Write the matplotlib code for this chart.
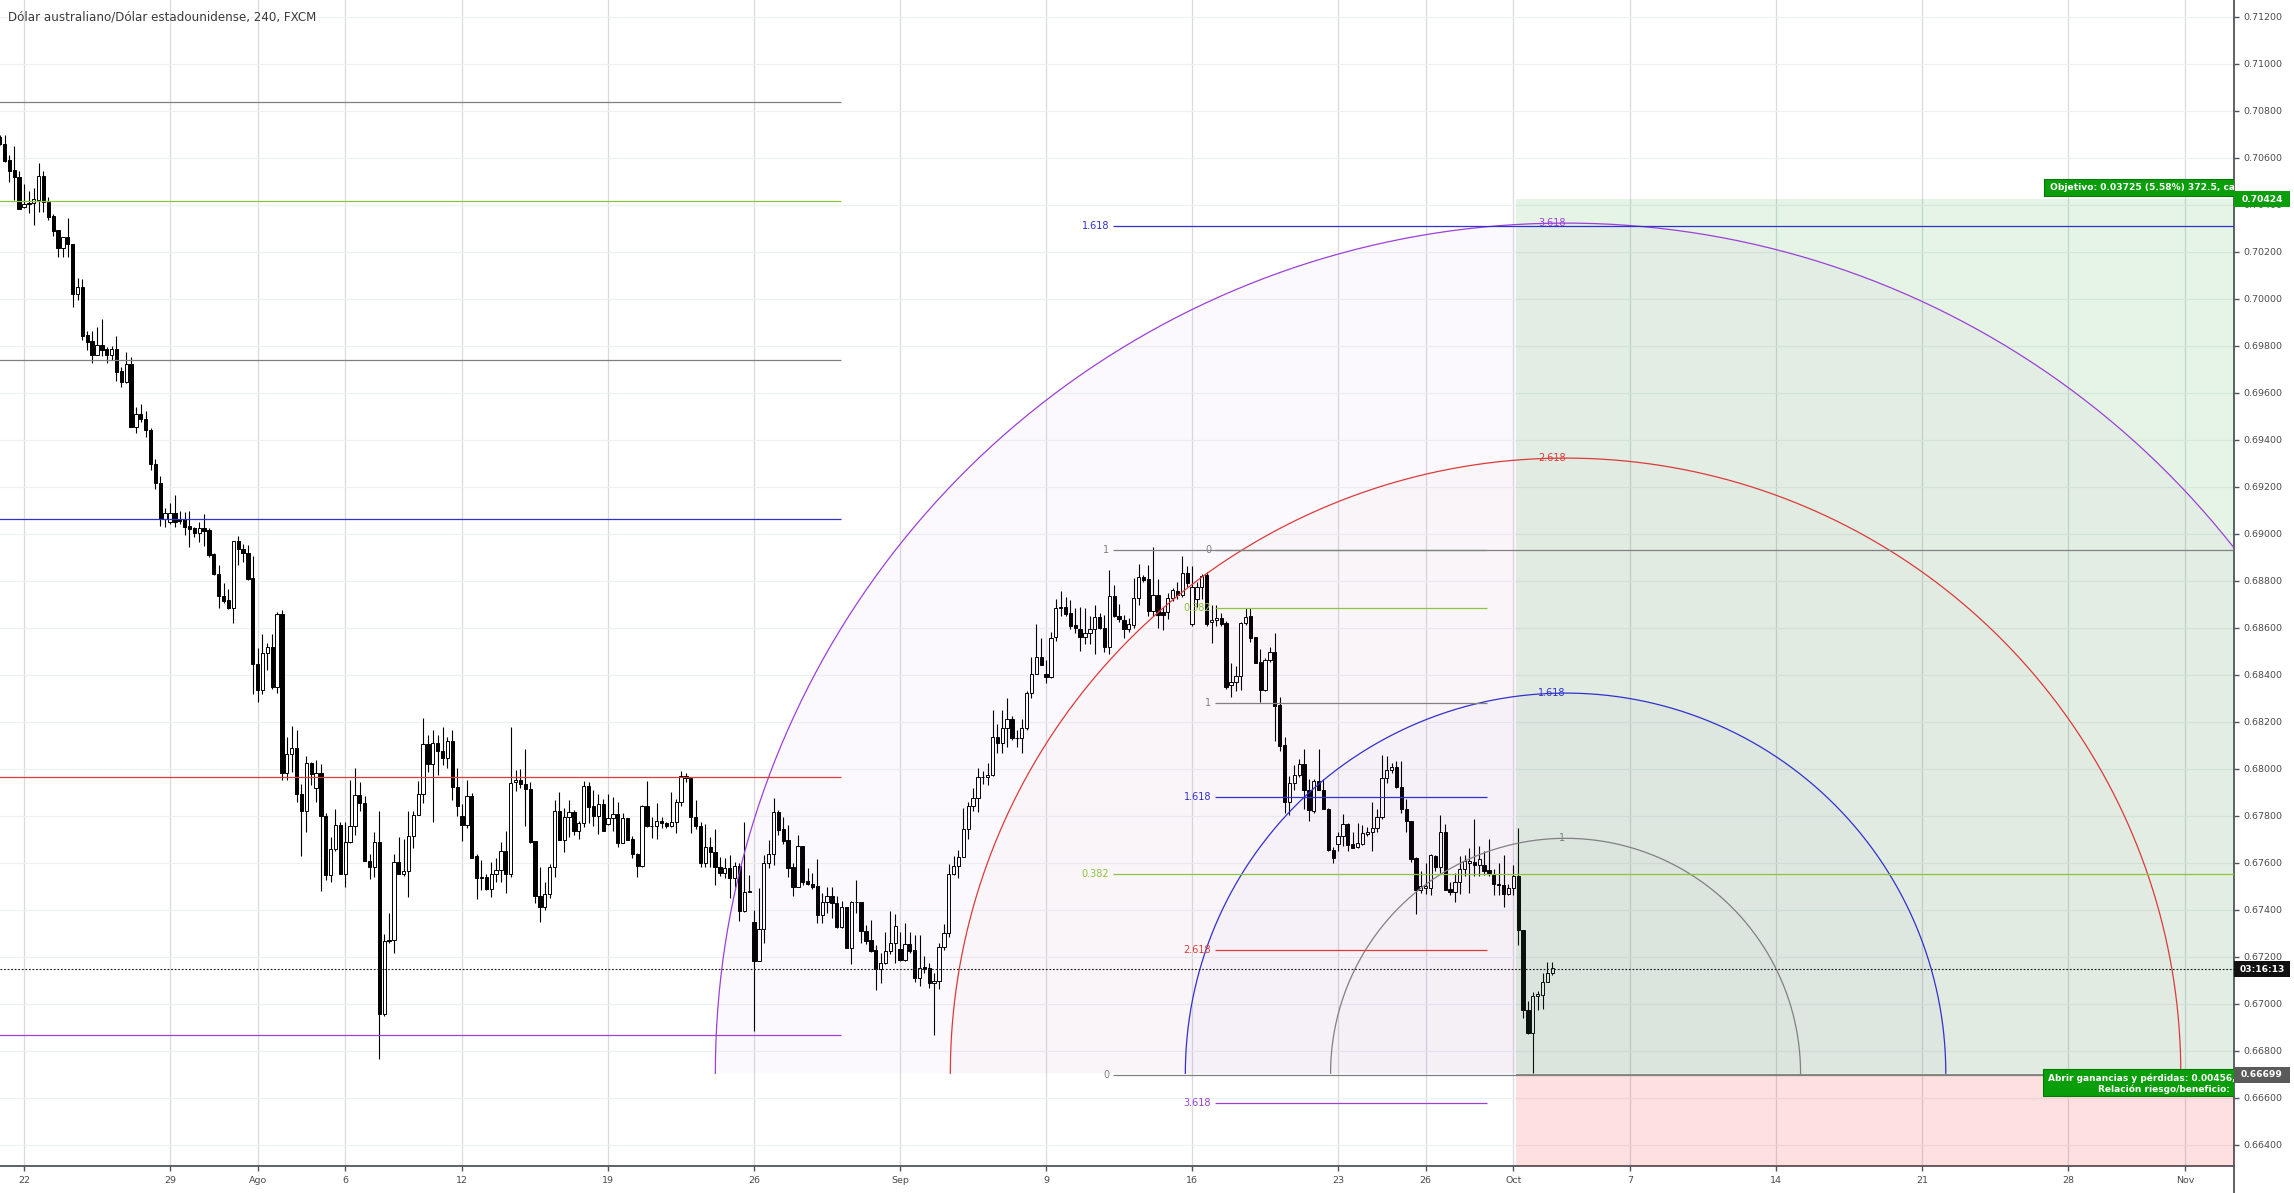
import numpy as np
import matplotlib
matplotlib.use("Agg")
import matplotlib.pyplot as plt
from matplotlib.patches import Rectangle, Polygon
from matplotlib.lines import Line2D
from matplotlib.transforms import blended_transform_factory

W, H, DPI = 2294, 1193, 100

TITLE = "Dólar australiano/Dólar estadounidense, 240, FXCM"

# 4h candles (19 Jul 2019 late session -> 2 Oct 2019)
opens = [
    0.70691, 0.70658, 0.70592, 0.70549, 0.70518, 0.70390, 0.70404, 0.70407, 0.70421, 0.70523,
    0.70414, 0.70353, 0.70294, 0.70216, 0.70262, 0.70234, 0.70021, 0.70050, 0.69847, 0.69823,
    0.69762, 0.69803, 0.69786, 0.69762, 0.69786, 0.69695, 0.69645, 0.69722, 0.69457, 0.69509,
    0.69488, 0.69442, 0.69296, 0.69216, 0.69064, 0.69050, 0.69088, 0.69064, 0.69064, 0.69035,
    0.69024, 0.69006, 0.69027, 0.69017, 0.68913, 0.68828, 0.68736, 0.68721, 0.68684, 0.68970,
    0.68935, 0.68918, 0.68813, 0.68445, 0.68335, 0.68494, 0.68520, 0.68350, 0.68658, 0.67985,
    0.68062, 0.68091, 0.67893, 0.67820, 0.68025, 0.67919, 0.67981, 0.67802, 0.67549, 0.67658,
    0.67761, 0.67552, 0.67691, 0.67758, 0.67889, 0.67856, 0.67610, 0.67585, 0.67688, 0.66958,
    0.67270, 0.67273, 0.67603, 0.67553, 0.67568, 0.67714, 0.67805, 0.67893, 0.68105, 0.68022,
    0.68110, 0.68075, 0.68047, 0.68117, 0.67922, 0.67798, 0.67761, 0.67886, 0.67629, 0.67542,
    0.67542, 0.67490, 0.67553, 0.67571, 0.67651, 0.67553, 0.67944, 0.67953, 0.67935, 0.67913,
    0.67694, 0.67461, 0.67414, 0.67468, 0.67581, 0.67821, 0.67698, 0.67794, 0.67818, 0.67738,
    0.67769, 0.67928, 0.67843, 0.67800, 0.67851, 0.67764, 0.67790, 0.67808, 0.67684, 0.67790,
    0.67701, 0.67637, 0.67589, 0.67843, 0.67759, 0.67759, 0.67780, 0.67769, 0.67757, 0.67773,
    0.67858, 0.67972, 0.67960, 0.67797, 0.67759, 0.67599, 0.67670, 0.67645, 0.67584, 0.67559,
    0.67577, 0.67537, 0.67589, 0.67397, 0.67478, 0.67350, 0.67184, 0.67318, 0.67599, 0.67637,
    0.67816, 0.67743, 0.67698, 0.67584, 0.67499, 0.67672, 0.67523, 0.67511, 0.67502, 0.67379,
    0.67433, 0.67461, 0.67428, 0.67329, 0.67411, 0.67240, 0.67433, 0.67433, 0.67311, 0.67272,
    0.67230, 0.67147, 0.67173, 0.67226, 0.67258, 0.67233, 0.67187, 0.67255, 0.67230, 0.67112,
    0.67156, 0.67152, 0.67088, 0.67098, 0.67244, 0.67301, 0.67552, 0.67587, 0.67627, 0.67743,
    0.67844, 0.67875, 0.67965, 0.67965, 0.67974, 0.68135, 0.68110, 0.68176, 0.68212, 0.68133,
    0.68133, 0.68176, 0.68324, 0.68403, 0.68475, 0.68403, 0.68391, 0.68561, 0.68683, 0.68691,
    0.68662, 0.68613, 0.68597, 0.68561, 0.68577, 0.68597, 0.68646, 0.68602, 0.68520, 0.68737,
    0.68651, 0.68634, 0.68594, 0.68613, 0.68727, 0.68818, 0.68809, 0.68672, 0.68740, 0.68667,
    0.68667, 0.68727, 0.68756, 0.68740, 0.68833, 0.68618, 0.68724, 0.68773, 0.68825, 0.68626,
    0.68634, 0.68642, 0.68621, 0.68357, 0.68369, 0.68395, 0.68623, 0.68651, 0.68561, 0.68455,
    0.68336, 0.68463, 0.68496, 0.68271, 0.68102, 0.67858, 0.67939, 0.67975, 0.68020, 0.67910,
    0.67820, 0.67950, 0.67910, 0.67831, 0.67654, 0.67682, 0.67714, 0.67766, 0.67682, 0.67669,
    0.67682, 0.67722, 0.67731, 0.67747, 0.67796, 0.67962, 0.67994, 0.68007, 0.67923, 0.67828,
    0.67779, 0.67620, 0.67486, 0.67494, 0.67494, 0.67629, 0.67584, 0.67734, 0.67489, 0.67478,
    0.67519, 0.67576, 0.67600, 0.67603, 0.67592, 0.67592, 0.67571, 0.67555, 0.67511, 0.67506,
    0.67467, 0.67494, 0.67543, 0.67315, 0.66973, 0.66876, 0.67033, 0.67038, 0.67095, 0.67131,
]
highs = [
    0.70698, 0.70698, 0.70613, 0.70651, 0.70545, 0.70489, 0.70460, 0.70471, 0.70580, 0.70545,
    0.70435, 0.70362, 0.70294, 0.70262, 0.70343, 0.70234, 0.70088, 0.70084, 0.69864, 0.69865,
    0.69879, 0.69913, 0.69797, 0.69800, 0.69842, 0.69712, 0.69773, 0.69752, 0.69542, 0.69553,
    0.69523, 0.69450, 0.69318, 0.69247, 0.69109, 0.69130, 0.69166, 0.69098, 0.69095, 0.69099,
    0.69031, 0.69052, 0.69085, 0.69024, 0.68918, 0.68867, 0.68790, 0.68765, 0.68972, 0.68991,
    0.68956, 0.68953, 0.68906, 0.68516, 0.68574, 0.68538, 0.68574, 0.68670, 0.68677, 0.68135,
    0.68182, 0.68164, 0.67937, 0.68054, 0.68031, 0.68037, 0.68022, 0.67812, 0.67710, 0.67831,
    0.67776, 0.67776, 0.67952, 0.68003, 0.67944, 0.67886, 0.67637, 0.67732, 0.67820, 0.67297,
    0.67387, 0.67637, 0.67710, 0.67702, 0.67820, 0.67820, 0.67947, 0.68215, 0.68145, 0.68168,
    0.68145, 0.68179, 0.68135, 0.68164, 0.68003, 0.67849, 0.67952, 0.67896, 0.67637, 0.67612,
    0.67553, 0.67603, 0.67622, 0.67688, 0.67735, 0.68179, 0.67995, 0.67999, 0.68085, 0.67943,
    0.67694, 0.67584, 0.67520, 0.67596, 0.67868, 0.67901, 0.67833, 0.67868, 0.67825, 0.67780,
    0.67949, 0.67946, 0.67911, 0.67894, 0.67872, 0.67892, 0.67882, 0.67858, 0.67814, 0.67790,
    0.67715, 0.67641, 0.67847, 0.67949, 0.67797, 0.67854, 0.67794, 0.67776, 0.67901, 0.67872,
    0.67991, 0.67982, 0.67960, 0.67868, 0.67776, 0.67764, 0.67712, 0.67743, 0.67627, 0.67620,
    0.67634, 0.67606, 0.67601, 0.67776, 0.67549, 0.67400, 0.67492, 0.67634, 0.67698, 0.67875,
    0.67825, 0.67794, 0.67762, 0.67601, 0.67719, 0.67672, 0.67577, 0.67556, 0.67615, 0.67471,
    0.67499, 0.67499, 0.67461, 0.67438, 0.67414, 0.67440, 0.67528, 0.67435, 0.67336, 0.67357,
    0.67251, 0.67216, 0.67305, 0.67396, 0.67381, 0.67308, 0.67343, 0.67308, 0.67294, 0.67294,
    0.67204, 0.67176, 0.67133, 0.67261, 0.67340, 0.67596, 0.67630, 0.67655, 0.67833, 0.67861,
    0.67918, 0.68003, 0.67991, 0.68024, 0.68251, 0.68191, 0.68253, 0.68300, 0.68224, 0.68164,
    0.68212, 0.68332, 0.68475, 0.68618, 0.68558, 0.68463, 0.68582, 0.68724, 0.68756, 0.68732,
    0.68721, 0.68683, 0.68691, 0.68683, 0.68651, 0.68699, 0.68662, 0.68656, 0.68846, 0.68781,
    0.68704, 0.68656, 0.68642, 0.68813, 0.68874, 0.68825, 0.68870, 0.68944, 0.68809, 0.68691,
    0.68748, 0.68769, 0.68797, 0.68906, 0.68862, 0.68862, 0.68797, 0.68830, 0.68838, 0.68699,
    0.68699, 0.68662, 0.68629, 0.68450, 0.68439, 0.68626, 0.68683, 0.68683, 0.68561, 0.68512,
    0.68471, 0.68520, 0.68577, 0.68305, 0.68138, 0.67970, 0.68015, 0.68043, 0.68085, 0.67959,
    0.67959, 0.68085, 0.67959, 0.67834, 0.67669, 0.67731, 0.67809, 0.67771, 0.67731, 0.67771,
    0.67763, 0.67755, 0.67858, 0.67831, 0.68059, 0.68056, 0.68027, 0.68032, 0.68032, 0.67874,
    0.67779, 0.67625, 0.67568, 0.67600, 0.67638, 0.67633, 0.67804, 0.67766, 0.67519, 0.67559,
    0.67629, 0.67633, 0.67662, 0.67788, 0.67673, 0.67652, 0.67701, 0.67576, 0.67600, 0.67636,
    0.67511, 0.67592, 0.67750, 0.67315, 0.67014, 0.67050, 0.67055, 0.67131, 0.67177, 0.67180,
]
lows = [
    0.70655, 0.70584, 0.70496, 0.70421, 0.70382, 0.70386, 0.70367, 0.70315, 0.70372, 0.70372,
    0.70336, 0.70268, 0.70180, 0.70177, 0.70177, 0.69967, 0.69996, 0.69826, 0.69783, 0.69729,
    0.69760, 0.69757, 0.69729, 0.69740, 0.69651, 0.69627, 0.69641, 0.69457, 0.69428, 0.69478,
    0.69411, 0.69272, 0.69190, 0.69034, 0.69028, 0.69043, 0.69031, 0.69043, 0.68996, 0.68946,
    0.68989, 0.68967, 0.68949, 0.68903, 0.68826, 0.68687, 0.68706, 0.68681, 0.68623, 0.68868,
    0.68882, 0.68804, 0.68318, 0.68284, 0.68321, 0.68420, 0.68340, 0.68325, 0.67952, 0.67952,
    0.67988, 0.67861, 0.67629, 0.67732, 0.67930, 0.67861, 0.67480, 0.67527, 0.67519, 0.67651,
    0.67552, 0.67497, 0.67685, 0.67717, 0.67820, 0.67610, 0.67530, 0.67542, 0.66768, 0.66948,
    0.67260, 0.67216, 0.67553, 0.67545, 0.67456, 0.67662, 0.67805, 0.67856, 0.67988, 0.67773,
    0.67974, 0.68017, 0.68003, 0.67867, 0.67798, 0.67695, 0.67747, 0.67622, 0.67446, 0.67486,
    0.67486, 0.67456, 0.67519, 0.67519, 0.67471, 0.67542, 0.67905, 0.67918, 0.67759, 0.67686,
    0.67428, 0.67350, 0.67400, 0.67450, 0.67542, 0.67698, 0.67648, 0.67712, 0.67719, 0.67702,
    0.67755, 0.67769, 0.67759, 0.67722, 0.67738, 0.67762, 0.67738, 0.67670, 0.67684, 0.67698,
    0.67620, 0.67542, 0.67581, 0.67755, 0.67708, 0.67701, 0.67750, 0.67750, 0.67755, 0.67729,
    0.67844, 0.67943, 0.67729, 0.67743, 0.67581, 0.67581, 0.67584, 0.67506, 0.67545, 0.67535,
    0.67450, 0.67499, 0.67355, 0.67393, 0.67476, 0.66886, 0.67184, 0.67258, 0.67577, 0.67591,
    0.67719, 0.67681, 0.67542, 0.67460, 0.67499, 0.67506, 0.67506, 0.67488, 0.67346, 0.67346,
    0.67386, 0.67364, 0.67322, 0.67322, 0.67237, 0.67169, 0.67389, 0.67261, 0.67254, 0.67223,
    0.67060, 0.67091, 0.67169, 0.67211, 0.67173, 0.67184, 0.67184, 0.67216, 0.67095, 0.67077,
    0.67133, 0.67069, 0.66868, 0.67062, 0.67230, 0.67284, 0.67549, 0.67535, 0.67627, 0.67701,
    0.67821, 0.67818, 0.67935, 0.67932, 0.67972, 0.68069, 0.68069, 0.68093, 0.68124, 0.68093,
    0.68069, 0.68164, 0.68300, 0.68403, 0.68444, 0.68368, 0.68387, 0.68545, 0.68651, 0.68651,
    0.68597, 0.68577, 0.68504, 0.68531, 0.68531, 0.68488, 0.68594, 0.68499, 0.68488, 0.68646,
    0.68626, 0.68556, 0.68581, 0.68602, 0.68699, 0.68797, 0.68651, 0.68651, 0.68602, 0.68590,
    0.68639, 0.68716, 0.68724, 0.68732, 0.68776, 0.68610, 0.68691, 0.68724, 0.68610, 0.68537,
    0.68610, 0.68610, 0.68341, 0.68305, 0.68333, 0.68336, 0.68613, 0.68542, 0.68450, 0.68287,
    0.68333, 0.68455, 0.68121, 0.68076, 0.67812, 0.67804, 0.67910, 0.67967, 0.67828, 0.67779,
    0.67812, 0.67910, 0.67828, 0.67652, 0.67600, 0.67649, 0.67673, 0.67652, 0.67662, 0.67665,
    0.67677, 0.67714, 0.67649, 0.67731, 0.67788, 0.67942, 0.67983, 0.67918, 0.67812, 0.67731,
    0.67603, 0.67384, 0.67473, 0.67470, 0.67462, 0.67568, 0.67559, 0.67483, 0.67462, 0.67434,
    0.67470, 0.67543, 0.67473, 0.67543, 0.67543, 0.67551, 0.67543, 0.67462, 0.67462, 0.67413,
    0.67462, 0.67462, 0.67250, 0.66941, 0.66871, 0.66705, 0.66973, 0.66978, 0.67095, 0.67125,
]
closes = [
    0.70660, 0.70589, 0.70546, 0.70518, 0.70382, 0.70403, 0.70410, 0.70424, 0.70523, 0.70414,
    0.70350, 0.70291, 0.70216, 0.70262, 0.70233, 0.70021, 0.70050, 0.69842, 0.69818, 0.69762,
    0.69803, 0.69783, 0.69762, 0.69786, 0.69691, 0.69645, 0.69722, 0.69457, 0.69509, 0.69488,
    0.69442, 0.69296, 0.69216, 0.69064, 0.69088, 0.69088, 0.69052, 0.69055, 0.69031, 0.69020,
    0.69006, 0.69027, 0.69014, 0.68911, 0.68828, 0.68736, 0.68716, 0.68684, 0.68970, 0.68935,
    0.68918, 0.68809, 0.68445, 0.68335, 0.68494, 0.68520, 0.68350, 0.68658, 0.67985, 0.68062,
    0.68091, 0.67893, 0.67820, 0.68025, 0.67978, 0.67981, 0.67802, 0.67549, 0.67658, 0.67761,
    0.67552, 0.67691, 0.67758, 0.67889, 0.67856, 0.67610, 0.67585, 0.67688, 0.66958, 0.67270,
    0.67273, 0.67603, 0.67553, 0.67568, 0.67714, 0.67805, 0.67893, 0.68105, 0.68022, 0.68110,
    0.68075, 0.68047, 0.68117, 0.67922, 0.67842, 0.67761, 0.67886, 0.67622, 0.67535, 0.67535,
    0.67490, 0.67553, 0.67571, 0.67651, 0.67553, 0.67941, 0.67952, 0.67935, 0.67913, 0.67691,
    0.67461, 0.67414, 0.67468, 0.67581, 0.67821, 0.67698, 0.67794, 0.67816, 0.67738, 0.67769,
    0.67928, 0.67840, 0.67800, 0.67851, 0.67738, 0.67790, 0.67808, 0.67684, 0.67790, 0.67698,
    0.67637, 0.67589, 0.67843, 0.67759, 0.67757, 0.67780, 0.67769, 0.67757, 0.67773, 0.67858,
    0.67972, 0.67960, 0.67797, 0.67759, 0.67599, 0.67670, 0.67645, 0.67584, 0.67559, 0.67577,
    0.67537, 0.67589, 0.67397, 0.67478, 0.67480, 0.67184, 0.67318, 0.67599, 0.67637, 0.67816,
    0.67740, 0.67694, 0.67580, 0.67499, 0.67672, 0.67520, 0.67509, 0.67499, 0.67379, 0.67433,
    0.67461, 0.67428, 0.67329, 0.67411, 0.67240, 0.67433, 0.67435, 0.67311, 0.67269, 0.67226,
    0.67147, 0.67173, 0.67226, 0.67258, 0.67332, 0.67187, 0.67255, 0.67227, 0.67112, 0.67155,
    0.67147, 0.67088, 0.67098, 0.67244, 0.67301, 0.67552, 0.67587, 0.67627, 0.67743, 0.67844,
    0.67875, 0.67965, 0.67967, 0.67974, 0.68135, 0.68112, 0.68176, 0.68212, 0.68133, 0.68131,
    0.68176, 0.68324, 0.68403, 0.68475, 0.68444, 0.68391, 0.68558, 0.68683, 0.68691, 0.68659,
    0.68610, 0.68602, 0.68561, 0.68577, 0.68597, 0.68646, 0.68602, 0.68520, 0.68737, 0.68651,
    0.68639, 0.68594, 0.68618, 0.68727, 0.68818, 0.68805, 0.68672, 0.68740, 0.68656, 0.68656,
    0.68727, 0.68760, 0.68740, 0.68833, 0.68792, 0.68776, 0.68773, 0.68821, 0.68618, 0.68634,
    0.68642, 0.68618, 0.68349, 0.68369, 0.68395, 0.68623, 0.68646, 0.68558, 0.68450, 0.68336,
    0.68463, 0.68496, 0.68268, 0.68097, 0.67858, 0.67942, 0.67975, 0.68020, 0.67910, 0.67825,
    0.67950, 0.67910, 0.67831, 0.67654, 0.67620, 0.67714, 0.67766, 0.67678, 0.67665, 0.67685,
    0.67727, 0.67731, 0.67747, 0.67796, 0.67962, 0.67994, 0.68007, 0.67923, 0.67831, 0.67779,
    0.67616, 0.67486, 0.67502, 0.67502, 0.67633, 0.67584, 0.67734, 0.67486, 0.67478, 0.67519,
    0.67576, 0.67608, 0.67608, 0.67592, 0.67616, 0.67568, 0.67559, 0.67511, 0.67506, 0.67467,
    0.67494, 0.67543, 0.67315, 0.66973, 0.66876, 0.67033, 0.67043, 0.67092, 0.67131, 0.67152,
]

SESSION_START = "2019-07-22"   # trading day 0 of the time axis (weekends skipped)
BARS_PER_DAY = 6
BARS_BEFORE_START = 5

date_ticks = ["2019-07-22", "2019-07-29", "2019-08-01", "2019-08-06", "2019-08-12",
              "2019-08-19", "2019-08-26", "2019-09-02", "2019-09-09", "2019-09-16",
              "2019-09-23", "2019-09-26", "2019-10-01", "2019-10-07", "2019-10-14",
              "2019-10-21", "2019-10-28", "2019-11-01"]
date_labels = ["22", "29", "Ago", "6", "12", "19", "26", "Sep", "9", "16",
               "23", "26", "Oct", "7", "14", "21", "28", "Nov"]
price_ticks = [0.664, 0.666, 0.668, 0.670, 0.672, 0.674, 0.676, 0.678, 0.680, 0.682, 0.684,
               0.686, 0.688, 0.690, 0.692, 0.694, 0.696, 0.698, 0.700, 0.702, 0.704, 0.706,
               0.708, 0.710, 0.712]

# fib retracements: price at level 0 and at level 1
fib_old = (0.70837, 0.69740)
fib_old_levels = [0, 0.382, 1, 1.618, 2.618, 3.618]
fib_big = (0.66699, 0.68932)
fib_big_levels = [1.618, 1, 0.382, 0]
fib_new = (0.68932, 0.68282)
fib_new_levels = [0, 0.382, 1, 1.618, 2.618, 3.618]

# fib speed resistance arcs
arc_center_price = 0.66705
arc_unit_price = 0.0100
arc_levels = [1, 1.618, 2.618, 3.618]

# long position
entry_price = 0.66699
target_price = 0.70424
last_price = 0.67148
countdown = "03:16:13"
target_text = "Objetivo: 0.03725 (5.58%) 372.5, cantidad: 1"
pnl_text = "Abrir ganancias y pérdidas: 0.00456, 0.68%"
rr_text = "Relación riesgo/beneficio: 17.25"

GRAY, GREEN, BLUE, RED, PURPLE = "#808080", "#8cc43c", "#3131cf", "#dd3a3a", "#9c40d8"
LEVEL_COLOR = {0: GRAY, 0.382: GREEN, 1: GRAY, 1.618: BLUE, 2.618: RED, 3.618: PURPLE}
AXIS_C = "#50535e"
TEXT_C = "#4a4a4a"
LABEL_GREEN = "#0a9e0a"

fig = plt.figure(figsize=(W / DPI, H / DPI), dpi=DPI)
fig.patch.set_facecolor("white")
ax = fig.add_axes([0, 27 / H, 2234 / W, 1166 / H])
XMIN, XMAX = -0.822, 75.68
YMIN, YMAX = 0.663106, 0.712723
ax.set_xlim(XMIN, XMAX)
ax.set_ylim(YMIN, YMAX)

# axes / grid
tick_pos = np.busday_count(SESSION_START, date_ticks)
ax.set_xticks(tick_pos)
ax.set_xticklabels(date_labels)
ax.yaxis.tick_right()
ax.set_yticks(price_ticks)
ax.set_yticklabels([f"{p:.5f}" for p in price_ticks])
ax.tick_params(axis="y", direction="out", length=3.5, width=1, color=AXIS_C,
               labelsize=6.8, labelcolor=TEXT_C, pad=3)
ax.tick_params(axis="x", direction="out", length=3.5, width=1, color=AXIS_C,
               labelsize=6.8, labelcolor=TEXT_C, pad=4)
for s in ("left", "top"):
    ax.spines[s].set_visible(False)
for s in ("right", "bottom"):
    ax.spines[s].set_color(AXIS_C)
    ax.spines[s].set_linewidth(1.3)
ax.set_axisbelow(True)
ax.grid(axis="x", color="#d9dadf", lw=0.9)
ax.grid(axis="y", color="#eff0f3", lw=0.9)
fig.add_artist(Line2D([2234 / W, 2234 / W], [0, 27 / H], color=AXIS_C, lw=1.3,
                      transform=fig.transFigure))

fig.text(8 / W, 1 - 17 / H, TITLE, ha="left", va="center", fontsize=8.6, color="#3a3a3a")

# candles
n = min(len(opens), len(highs), len(lows), len(closes))
o, hi, lo, c = (np.array(a[:n]) for a in (opens, highs, lows, closes))
bar_day = (np.arange(n) - BARS_BEFORE_START) / BARS_PER_DAY
top, bot = np.maximum(o, c), np.minimum(o, c)
ax.vlines(bar_day, np.minimum(lo, bot), np.maximum(hi, top), color="black", lw=0.8, zorder=3)
ax.bar(bar_day, np.maximum(top - bot, 0.00002), bottom=bot, width=0.113,
       color=["white" if up else "black" for up in c >= o],
       edgecolor="black", linewidth=0.7, zorder=4)

# long position box
POS_LEFT, POS_RIGHT = 51.09, 80.0
ax.add_patch(Rectangle((POS_LEFT, entry_price), POS_RIGHT - POS_LEFT, target_price - entry_price,
                       fc=(0.0, 0.6, 0.0, 0.10), ec="none", zorder=5))
ax.add_patch(Rectangle((POS_LEFT, YMIN - 0.01), POS_RIGHT - POS_LEFT, entry_price - YMIN + 0.01,
                       fc=(1.0, 0.0, 0.0, 0.12), ec="none", zorder=5))
ax.hlines(entry_price, POS_LEFT, POS_RIGHT, color="#6e6e6e", lw=1.1, zorder=6)

# speed resistance arcs (circles in screen space)
(x0, y0), (x1, y1) = ax.transData.transform([(0, 0.68), (1, 0.69)])
days_per_price = ((y1 - y0) / 0.01) / (x1 - x0)
ARC_CENTER_DAY = 52.79
theta = np.linspace(0, np.pi, 500)
arc_alpha = {1: 0.012, 1.618: 0.02, 2.618: 0.016, 3.618: 0.03}
for lvl in arc_levels:
    col = LEVEL_COLOR[lvl]
    ry = arc_unit_price * lvl
    rx = ry * days_per_price
    xs = ARC_CENTER_DAY + rx * np.cos(theta)
    ys = arc_center_price + ry * np.sin(theta)
    ax.add_patch(Polygon(np.column_stack([xs, ys]), closed=True, fc=col,
                         alpha=arc_alpha[lvl], ec="none", zorder=5))
    ax.plot(xs, ys, color=col, lw=0.9, zorder=6)
    ax.text(ARC_CENTER_DAY, arc_center_price + ry, f"{lvl:g}", ha="right", va="center",
            color=col, fontsize=7, zorder=8)


def draw_fib(anchor, levels, x_start, x_end, label_x=None):
    p0, p1 = anchor
    for lvl in levels:
        price = p0 + lvl * (p1 - p0)
        col = LEVEL_COLOR[lvl]
        ax.hlines(price, x_start, x_end, color=col, lw=0.9, zorder=6)
        if label_x is not None:
            ax.text(label_x, price, f"{lvl:g}", ha="right", va="center", color=col,
                    fontsize=7, zorder=8)


draw_fib(fib_old, fib_old_levels, XMIN - 1, 27.98)
draw_fib(fib_big, fib_big_levels, 37.28, XMAX + 5, label_x=37.16)
draw_fib(fib_new, fib_new_levels, 40.79, 50.09, label_x=40.65)

# current price
ax.axhline(last_price, color="#1a1a1a", lw=0.8, ls=(0, (1.6, 1.6)), zorder=7)

# position labels (clipped by the price scale, as on the chart)
ax.add_patch(Rectangle((69.18, target_price + 0.00013), 12, 0.00073, fc=LABEL_GREEN,
                       ec="#067a06", lw=0.8, zorder=9))
ax.text(69.38, target_price + 0.000495, target_text, ha="left", va="center", color="white",
        fontsize=6.6, fontweight="bold", zorder=10, clip_on=True)
ax.add_patch(Rectangle((69.14, entry_price - 0.0009), 12, 0.00114, fc=LABEL_GREEN,
                       ec="#067a06", lw=0.8, zorder=9))
ax.text(69.32, entry_price - 0.00014, pnl_text, ha="left", va="center", color="white",
        fontsize=6.5, fontweight="bold", zorder=10, clip_on=True)
ax.text(71.03, entry_price - 0.00061, rr_text, ha="left", va="center", color="white",
        fontsize=6.5, fontweight="bold", zorder=10, clip_on=True)

# price scale badges
tr = blended_transform_factory(ax.transAxes, ax.transData)
badge_w, badge_h = 56 / 2234, 16 / 23500
for price, txt, col in ((target_price, f"{target_price:.5f}", LABEL_GREEN),
                        (last_price, countdown, "#111111"),
                        (entry_price, f"{entry_price:.5f}", "#5a5a5a")):
    ax.add_patch(Rectangle((1.0, price - badge_h / 2), badge_w, badge_h, transform=tr,
                           fc=col, ec="none", clip_on=False, zorder=11))
    ax.text(1.0 + badge_w / 2, price, txt, transform=tr, ha="center", va="center",
            color="white", fontsize=6.6, fontweight="bold", clip_on=False, zorder=12)

fig.savefig("out.png", dpi=DPI, facecolor="white")
